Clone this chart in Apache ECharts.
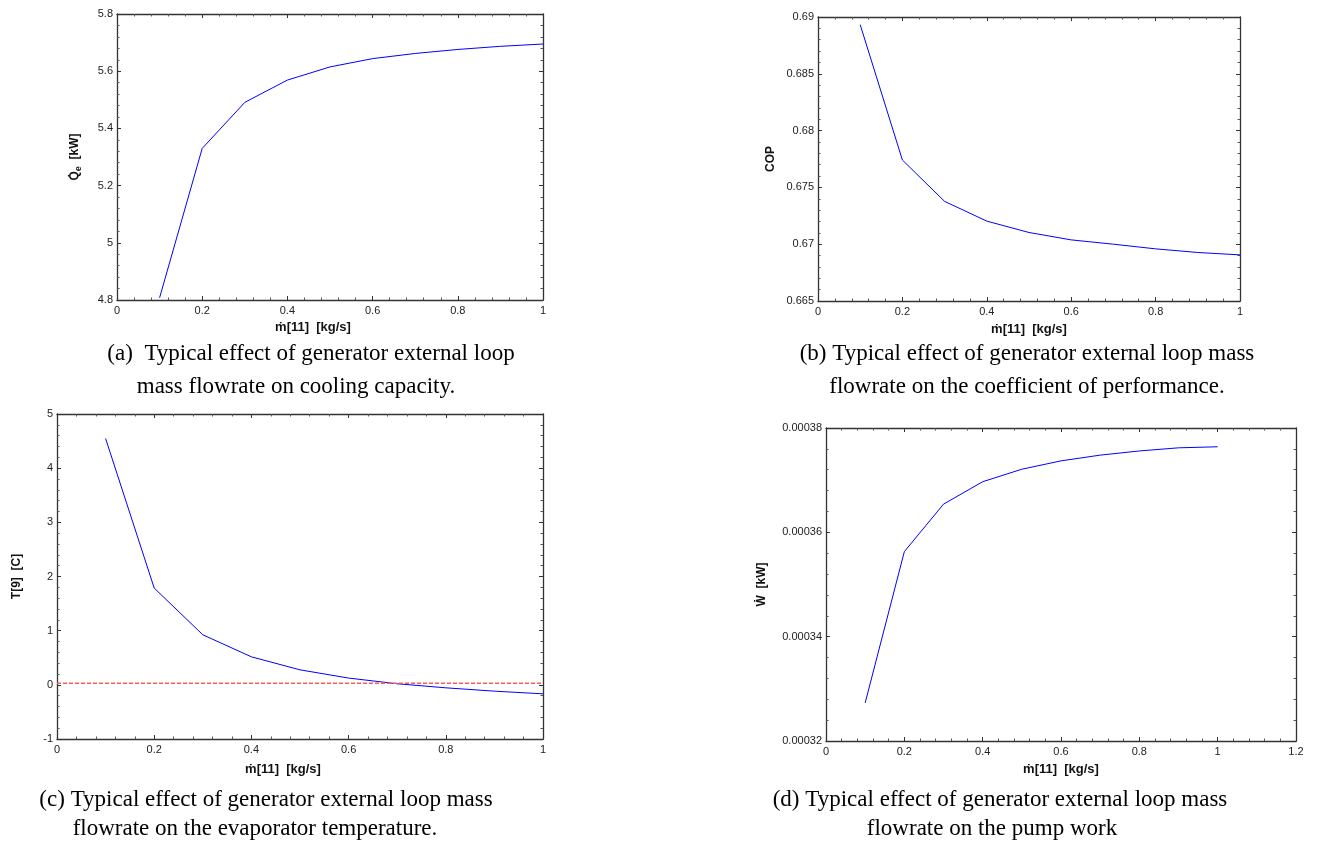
<!DOCTYPE html>
<html>
<head>
<meta charset="utf-8">
<title>Generator external loop mass flowrate</title>
<script src="https://cdn.jsdelivr.net/npm/echarts@6/dist/echarts.min.js"></script>
<style>
  html, body { margin: 0; padding: 0; background: #fff; }
  #main { width: 1322px; height: 841px; }
</style>
</head>
<body>
<div id="main"></div>
<script>
// data
var massFlow = [0.1, 0.2, 0.3, 0.4, 0.5, 0.6, 0.7, 0.8, 0.9, 1.0];
var coolingCapacity = [4.808, 5.330, 5.491, 5.569, 5.615, 5.644, 5.662, 5.676, 5.687, 5.695];
var cop = [0.68932, 0.67741, 0.67377, 0.67203, 0.67103, 0.67038, 0.67000, 0.66959, 0.66927, 0.66906];
var evapTemp = [4.547, 1.787, 0.924, 0.517, 0.277, 0.125, 0.02, -0.055, -0.117, -0.166];
var pumpWork = [0.0003273, 0.0003563, 0.0003654, 0.0003697, 0.0003721, 0.0003737, 0.0003748, 0.0003756, 0.0003762, 0.0003764];
var refX = [0, 1];
var refTemp = [0.03, 0.03];

var captions = [
  ['(a)  Typical effect of generator external loop', 'mass flowrate on cooling capacity.'],
  ['(b) Typical effect of generator external loop mass', 'flowrate on the coefficient of performance.'],
  ['(c) Typical effect of generator external loop mass', 'flowrate on the evaporator temperature.'],
  ['(d) Typical effect of generator external loop mass', 'flowrate on the pump work']
];

var sans = '"Liberation Sans", Arial, sans-serif';
var serif = '"Liberation Serif", "Times New Roman", serif';

var grids = [
  { left: 117, top: 14, width: 426, height: 286 },
  { left: 818, top: 17, width: 422, height: 284 },
  { left: 57, top: 414, width: 486, height: 325 },
  { left: 826, top: 428, width: 470, height: 313 }
];

function pairs(xs, ys) {
  return xs.map(function (x, i) { return [x, ys[i]]; });
}

var line = { onZero: false, lineStyle: { color: '#333', width: 1.3 } };
var tick = { inside: true, length: 4, lineStyle: { color: '#333' } };
var minor = { show: true, splitNumber: 5, length: 2.5, lineStyle: { color: '#555' } };
var label = { color: '#222', fontSize: 11, fontFamily: sans };

var xAxes = [], yAxes = [];
function addAxes(g, xr, yr, xName, yName, xGap, yGap, xPad) {
  xAxes.push({
    type: 'value', gridIndex: g, position: 'bottom', min: xr[0], max: xr[1], interval: xr[2],
    name: xName, nameLocation: 'middle', nameGap: xGap,
    nameTextStyle: { fontFamily: sans, fontWeight: 'bold', fontSize: 13, color: '#111', padding: xPad || 0 },
    axisLine: line, axisTick: tick, minorTick: minor,
    axisLabel: Object.assign({ margin: 5 }, label), splitLine: { show: false }
  });
  xAxes.push({
    type: 'value', gridIndex: g, position: 'top', min: xr[0], max: xr[1], interval: xr[2],
    axisLine: line, axisTick: tick, minorTick: minor,
    axisLabel: { show: false }, splitLine: { show: false }
  });
  yAxes.push({
    type: 'value', gridIndex: g, position: 'left', min: yr[0], max: yr[1], interval: yr[2],
    name: yName.text, nameLocation: 'middle', nameGap: yGap,
    nameTextStyle: { fontFamily: sans, fontWeight: 'bold', fontSize: 12, color: '#111', rich: yName.rich },
    axisLine: line, axisTick: tick, minorTick: minor,
    axisLabel: Object.assign({ margin: 4 }, label), splitLine: { show: false }
  });
  yAxes.push({
    type: 'value', gridIndex: g, position: 'right', min: yr[0], max: yr[1], interval: yr[2],
    axisLine: line, axisTick: tick, minorTick: minor,
    axisLabel: { show: false }, splitLine: { show: false }
  });
}

var bold = { fontFamily: sans, fontWeight: 'bold', fontSize: 12, color: '#111', lineHeight: 16 };
var sub = { fontFamily: sans, fontWeight: 'bold', fontSize: 9, color: '#111', lineHeight: 16, verticalAlign: 'bottom', padding: [6, 0, 0, 0] };
var mName = 'm\u0307[11]  [kg/s]';

addAxes(0, [0, 1, 0.2], [4.8, 5.8, 0.2], mName,
  { text: '{b|Q\u0307}{s|e}{b|  [kW]}', rich: { b: bold, s: sub } }, 21, 34, [0, 34, 0, 0]);
addAxes(1, [0, 1, 0.2], [0.665, 0.69, 0.005], mName, { text: 'COP' }, 22, 41);
addAxes(2, [0, 1, 0.2], [-1, 5, 1], mName, { text: 'T[9]  [C]' }, 24, 34, [0, 34, 0, 0]);
addAxes(3, [0, 1.2, 0.2], [0.00032, 0.00038, 0.00002], mName, { text: 'W\u0307  [kW]' }, 22, 58);

var blue = { color: '#0000ff', width: 1 };
function curve(g, ys) {
  return {
    type: 'line', xAxisIndex: g * 2, yAxisIndex: g * 2, data: pairs(massFlow, ys),
    showSymbol: false, lineStyle: blue, itemStyle: { color: '#0000ff' }, animation: false, silent: true
  };
}

var series = [
  curve(0, coolingCapacity),
  curve(1, cop),
  curve(2, evapTemp),
  curve(3, pumpWork),
  {
    type: 'line', xAxisIndex: 4, yAxisIndex: 4, data: pairs(refX, refTemp),
    showSymbol: false, animation: false, silent: true,
    lineStyle: { color: '#ff5a5a', width: 1.5, type: [4, 2] }
  }
];

// caption line centres
var capPos = [
  [[311, 354], [296, 387]],
  [[1027, 354], [1027, 387]],
  [[266, 800], [255, 829]],
  [[1000, 800], [992, 829]]
];
var graphics = [];
captions.forEach(function (c, i) {
  c.forEach(function (t, j) {
    graphics.push({
      type: 'text', x: capPos[i][j][0], y: capPos[i][j][1], silent: true,
      style: { text: t, font: '23px ' + serif, fill: '#000', textAlign: 'center', textVerticalAlign: 'middle' }
    });
  });
});

var chart = echarts.init(document.getElementById('main'));
chart.setOption({
  animation: false,
  backgroundColor: '#fff',
  grid: grids.map(function (g) { return Object.assign({ outerBoundsMode: 'none', containLabel: false }, g); }),
  xAxis: xAxes,
  yAxis: yAxes,
  series: series,
  graphic: graphics
});
</script>
</body>
</html>
